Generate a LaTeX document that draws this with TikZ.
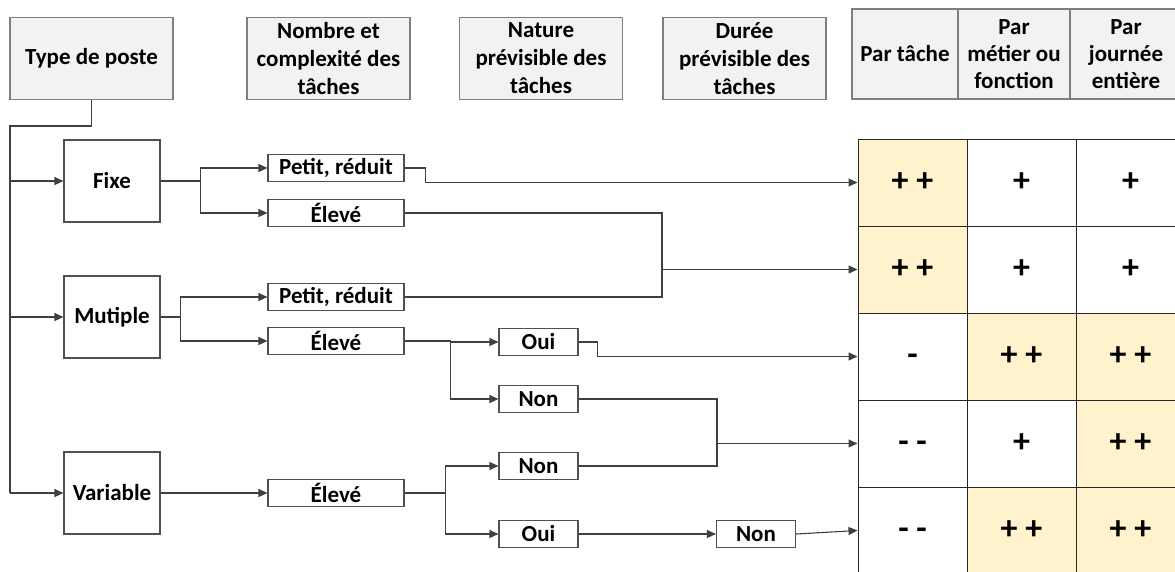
\documentclass[tikz,border=0pt]{standalone}
\usepackage{fontspec}
\setmainfont{Carlito}
\usetikzlibrary{arrows.meta}
\definecolor{hdrfill}{HTML}{F2F2F2}
\definecolor{hdrline}{HTML}{7F7F7F}
\definecolor{boxline}{HTML}{505050}
\definecolor{conn}{HTML}{404040}
\definecolor{yel}{HTML}{FFF2CC}
\definecolor{tabline}{HTML}{262626}
\begin{document}
\begin{tikzpicture}[x=1pt,y=-1pt,
  font=\fontsize{23}{28}\selectfont\bfseries,
  hdr/.style={draw=hdrline, fill=hdrfill, line width=1.2pt, align=center, inner sep=0pt},
  bigbox/.style={draw=boxline, line width=1.1pt, minimum width=96pt, minimum height=82pt, inner sep=0pt},
  smallbox/.style={draw=boxline, line width=1.1pt, minimum height=27pt, inner sep=0pt},
  cell/.style={draw=tabline, line width=1pt, minimum width=109pt, minimum height=87pt, inner sep=0pt,
    font=\fontsize{34}{34}\selectfont\bfseries, execute at begin node={\vphantom{+}}},
  ln/.style={draw=conn, line width=1.1pt},
  arr/.style={ln, -{Triangle[length=9pt,width=8pt]}},
]
\useasboundingbox (0,0) rectangle (1175,571);

% header boxes
\node[hdr, minimum width=163pt, minimum height=82pt] (tp) at (91.5,58.5) {Type de poste};
\node[hdr, minimum width=163pt, minimum height=82pt] (nct) at (328.5,58.5) {Nombre et\\complexité des\\tâches};
\node[hdr, minimum width=163pt, minimum height=82pt] (npt) at (541,58.5) {Nature\\prévisible des\\tâches};
\node[hdr, minimum width=163pt, minimum height=82pt] (dpt) at (744.5,58.5) {Durée\\prévisible des\\tâches};

% table header
\begin{scope}[font=\fontsize{23}{27}\selectfont\bfseries]
\node[hdr, minimum width=106pt, minimum height=90pt] (ph1) at (905,54) {Par tâche};
\node[hdr, minimum width=112pt, minimum height=90pt] (ph2) at (1014,54) {Par\\métier ou\\fonction};
\node[hdr, minimum width=112pt, minimum height=90pt] (ph3) at (1126,54) {Par\\journée\\entière};
\end{scope}

% table body
\node[cell, fill=yel] (c11) at (912.5,182.5) {+ +};
\node[cell] (c12) at (1021.5,182.5) {+};
\node[cell] (c13) at (1130.5,182.5) {+};
\node[cell, fill=yel] (c21) at (912.5,269.5) {+ +};
\node[cell] (c22) at (1021.5,269.5) {+};
\node[cell] (c23) at (1130.5,269.5) {+};
\node[cell] (c31) at (912.5,356.5) {-};
\node[cell, fill=yel] (c32) at (1021.5,356.5) {+ +};
\node[cell, fill=yel] (c33) at (1130.5,356.5) {+ +};
\node[cell] (c41) at (912.5,443.5) {- -};
\node[cell] (c42) at (1021.5,443.5) {+};
\node[cell, fill=yel] (c43) at (1130.5,443.5) {+ +};
\node[cell] (c51) at (912.5,530.5) {- -};
\node[cell, fill=yel] (c52) at (1021.5,530.5) {+ +};
\node[cell, fill=yel] (c53) at (1130.5,530.5) {+ +};

% left column
\node[bigbox] (fixe) at (112,181) {Fixe};
\node[bigbox] (mut) at (112,317) {Mutiple};
\node[bigbox] (var) at (112,493) {Variable};

% second column
\node[smallbox, minimum width=136pt] (pr1) at (336,168) {Petit, réduit};
\node[smallbox, minimum width=136pt] (el1) at (336,213) {Élevé};
\node[smallbox, minimum width=136pt] (pr2) at (336,297) {Petit, réduit};
\node[smallbox, minimum width=136pt] (el2) at (336,341) {Élevé};
\node[smallbox, minimum width=136pt] (el3) at (336,493) {Élevé};

% third column
\node[smallbox, minimum width=79pt] (oui1) at (538.5,342) {Oui};
\node[smallbox, minimum width=79pt] (non1) at (538.5,399) {Non};
\node[smallbox, minimum width=79pt] (non2) at (538.5,466) {Non};
\node[smallbox, minimum width=79pt] (oui2) at (538.5,534) {Oui};

% fourth column
\node[smallbox, minimum width=79pt] (dnon) at (756,534) {Non};

% trunk
\coordinate (ttop) at (10,126);
\coordinate (tbot) at (10,493);
\draw[ln] (tp.south) |- (ttop) -- (tbot);
\draw[arr] (ttop |- fixe.west) -- (fixe.west);
\draw[arr] (ttop |- mut.west) -- (mut.west);
\draw[arr] (tbot) -- (var.west);

% level 2
\draw[arr] (fixe.east) -- ++(40,0) |- (pr1.west);
\draw[arr] (fixe.east) -- ++(40,0) |- (el1.west);
\draw[arr] (mut.east) -- ++(20,0) |- (pr2.west);
\draw[arr] (mut.east) -- ++(20,0) |- (el2.west);
\draw[arr] (var.east) -- (el3.west);

% to table
\draw[arr] (pr1.east) -- ++(21,0) |- (c11.west);
\coordinate (j1) at (662,269.5);
\draw[ln] (el1.east) -| (j1);
\draw[ln] (pr2.east) -| (j1);
\draw[arr] (j1) -- (c21.west);

% level 3
\draw[arr] (el2.east) -- ++(46,0) |- (oui1.west);
\draw[arr] (el2.east) -- ++(46,0) |- (non1.west);
\draw[arr] (el3.east) -- ++(41,0) |- (non2.west);
\draw[arr] (el3.east) -- ++(41,0) |- (oui2.west);

\draw[arr] (oui1.east) -- ++(19,0) |- (c31.west);
\coordinate (j2) at (717,443.5);
\draw[ln] (non1.east) -| (j2);
\draw[ln] (non2.east) -| (j2);
\draw[arr] (j2) -- (c41.west);

\draw[arr] (oui2.east) -- (dnon.west);
\draw[arr] (dnon.east) -- (c51.west);
\end{tikzpicture}
\end{document}
